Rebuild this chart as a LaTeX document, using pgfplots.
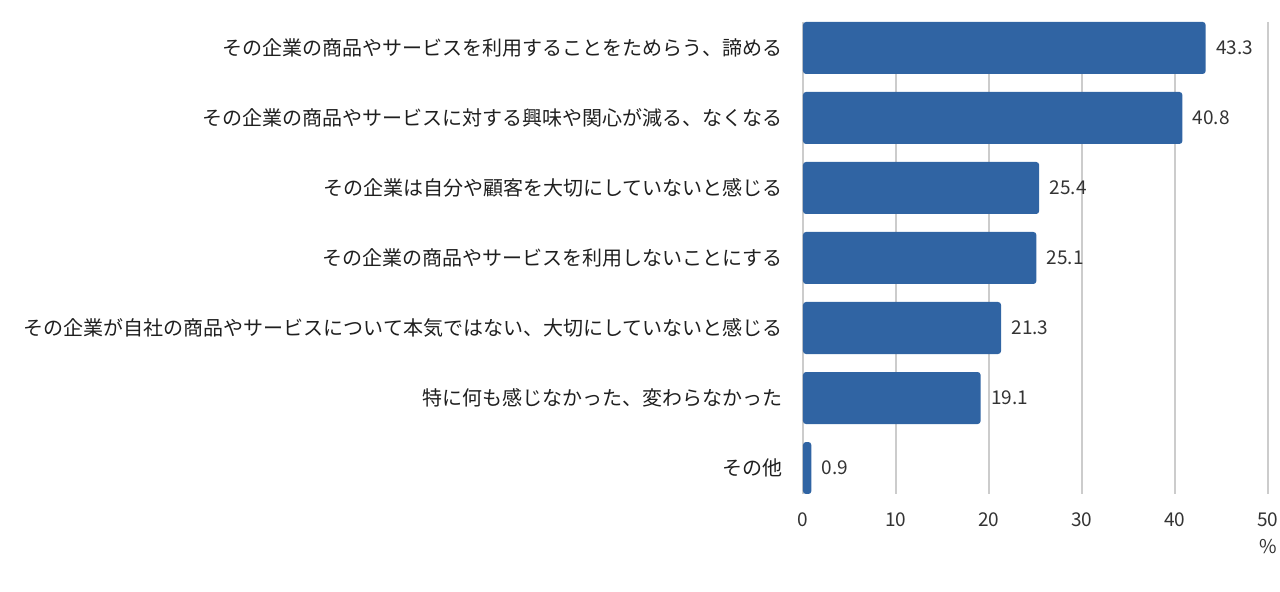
\documentclass[border=0pt]{standalone}
\usepackage{pgfplots}
\pgfplotsset{compat=1.18}
\usepackage{fontspec}
\setmainfont{Noto Sans CJK JP}
\definecolor{barblue}{RGB}{48,100,163}
\definecolor{gridgray}{RGB}{204,204,204}
\definecolor{numgray}{RGB}{51,51,51}
\begin{document}
\begin{tikzpicture}
\path[use as bounding box] (-401.5pt,-49pt) rectangle (238.5pt,247pt);
\begin{axis}[
    at={(0,0)}, anchor=south west,
    scale only axis, width=232.5pt, height=236pt,
    xbar, bar width=0.743,
    xmin=0, xmax=50, ymin=-0.371, ymax=6.371,
    y dir=reverse,
    xtick={0,10,...,50}, ytick={0,...,6},
    yticklabels={その企業の商品やサービスを利用することをためらう、諦める,
                 その企業の商品やサービスに対する興味や関心が減る、なくなる,
                 その企業は自分や顧客を大切にしていないと感じる,
                 その企業の商品やサービスを利用しないことにする,
                 その企業が自社の商品やサービスについて本気ではない、大切にしていないと感じる,
                 特に何も感じなかった、変わらなかった,
                 その他},
    xmajorgrids, major grid style={gridgray, line width=0.6pt},
    axis line style={draw=none},
    major tick length=0pt,
    /pgf/number format/assume math mode=true,
    y tick label style={font=\fontsize{10}{12}\selectfont, text=black!88, anchor=east, xshift=-6.7pt},
    x tick label style={font=\fontsize{9.5}{11}\selectfont, text=numgray, yshift=-6pt},
    point meta=x,
    nodes near coords,
    nodes near coords style={font=\fontsize{9.5}{11}\selectfont, text=numgray, anchor=west, xshift=1.7pt,
        /pgf/number format/.cd, fixed, fixed zerofill, precision=1},
]
\addplot[draw=none, fill=barblue, rounded corners=1.5pt] coordinates {
    (43.3,0) (40.8,1) (25.4,2) (25.1,3) (21.3,4) (19.1,5) (0.9,6)
};
\end{axis}
\node[font=\fontsize{9.5}{11}\selectfont, text=numgray] at (232.5pt,-26.5pt) {\%};
\end{tikzpicture}
\end{document}
